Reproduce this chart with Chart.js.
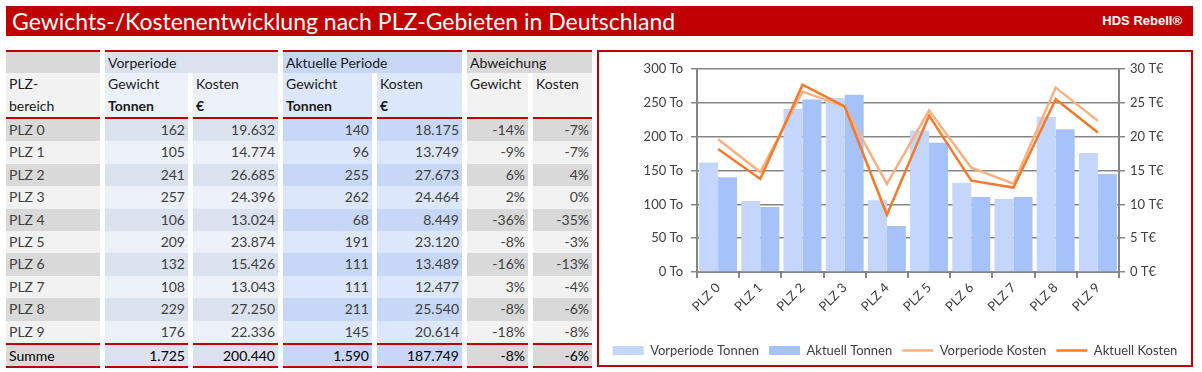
<!DOCTYPE html>
<html lang="de">
<head>
<meta charset="utf-8">
<title>Gewichts-/Kostenentwicklung nach PLZ-Gebieten</title>
<script src="https://cdn.jsdelivr.net/npm/chart.js@4/dist/chart.umd.min.js"></script>
<style>
  body { margin: 0; background: #fff; font-family: Lato, "Open Sans", sans-serif; }
  #page { position: relative; width: 1202px; height: 372px; overflow: hidden; }
  #titlebar { position: absolute; left: 6px; top: 6px; width: 1187px; height: 30px; background: #c00000; color: #fff; }
  #titlebar h1 { margin: 0; position: absolute; left: 6px; top: 0; line-height: 30px; font-size: 23px; font-weight: normal; }
  #titlebar .brand { position: absolute; right: 11px; top: 0; font: bold 13px "Liberation Sans", Arial, sans-serif; line-height: 30px; }

  #table { position: absolute; left: 6px; top: 50px; display: grid;
    grid-template-columns: 94px 83px 85px 89px 85px 61px 59px;
    grid-template-rows: 23px 46px repeat(10, 22.4px) 25px;
    column-gap: 5px; font-size: 14px; color: #1a1a1a; }
  #table div { box-sizing: border-box; padding: 0 3px; line-height: 22px; white-space: nowrap; }
  #table b { font-weight: bold; }
  #table .num { text-align: right; color: #404040; }
  #table .top { border-top: 2px solid #c00000; }
  #table .hbot { border-bottom: 2px solid #c00000; }
  #table .sum { border-top: 2px solid #c00000; border-bottom: 2px solid #c00000; color: #000; line-height: 21px; }
  #table .lbl { color: #404040; }

  #chartbox { position: absolute; left: 597px; top: 50px; width: 596px; height: 317px; box-sizing: border-box; border: 2px solid #c00000; background: #fff; overflow: hidden; }
  #chart { display: block; }
</style>
</head>
<body>
<div id="page">
  <div id="titlebar">
    <h1>Gewichts-/Kostenentwicklung nach PLZ-Gebieten in Deutschland</h1>
    <span class="brand">HDS Rebell®</span>
  </div>
  <div id="table"></div>
  <div id="chartbox"><canvas id="chart" width="592" height="319"></canvas></div>
</div>
<script>
const regions = ['PLZ 0', 'PLZ 1', 'PLZ 2', 'PLZ 3', 'PLZ 4', 'PLZ 5', 'PLZ 6', 'PLZ 7', 'PLZ 8', 'PLZ 9'];
const weightPrev = [162, 105, 241, 257, 106, 209, 132, 108, 229, 176];
const costPrev = [19632, 14774, 26685, 24396, 13024, 23874, 15426, 13043, 27250, 22336];
const weightCurr = [140, 96, 255, 262, 68, 191, 111, 111, 211, 145];
const costCurr = [18175, 13749, 27673, 24464, 8449, 23120, 13489, 12477, 25540, 20614];
const devWeight = [-14, -9, 6, 2, -36, -8, -16, 3, -8, -18];
const devCost = [-7, -7, 4, 0, -35, -3, -13, -4, -6, -8];
const totals = [1725, 200440, 1590, 187749];
const totalDev = [-8, -6];

const FONT = 'Lato, "Open Sans", sans-serif';
const C = {
  red: '#c00000',
  gray: '#d9d9d9', grayLight: '#f2f2f2',
  prev: '#dae1ef', prevLight: '#ecf0f9',
  curr: '#c6d7f8', currLight: '#dde7fb'
};

const fmt = n => String(n).replace(/\B(?=(\d{3})+(?!\d))/g, '.');
const pct = n => n + '%';

// --- table ---
const table = document.getElementById('table');
function cell(text, cls, bg, col, row, span) {
  const d = document.createElement('div');
  d.innerHTML = text;
  if (cls) d.className = cls;
  d.style.background = bg;
  d.style.gridColumn = span ? col + ' / span ' + span : col;
  d.style.gridRow = row;
  table.appendChild(d);
}

cell('', 'top', C.gray, 1, 1);
cell('Vorperiode', 'top', C.prev, 2, 1, 2);
cell('Aktuelle Periode', 'top', C.curr, 4, 1, 2);
cell('Abweichung', 'top', C.gray, 6, 1, 2);

cell('PLZ-<br>bereich', 'hbot', C.grayLight, 1, 2);
cell('Gewicht<br><b>Tonnen</b>', 'hbot', C.prevLight, 2, 2);
cell('Kosten<br><b>€</b>', 'hbot', C.prevLight, 3, 2);
cell('Gewicht<br><b>Tonnen</b>', 'hbot', C.currLight, 4, 2);
cell('Kosten<br><b>€</b>', 'hbot', C.currLight, 5, 2);
cell('Gewicht', 'hbot', C.grayLight, 6, 2);
cell('Kosten', 'hbot', C.grayLight, 7, 2);

regions.forEach((r, i) => {
  const row = i + 3;
  const even = i % 2 === 0;
  cell(r, 'lbl', even ? C.gray : C.grayLight, 1, row);
  cell(fmt(weightPrev[i]), 'num', even ? C.prev : C.prevLight, 2, row);
  cell(fmt(costPrev[i]), 'num', even ? C.prev : C.prevLight, 3, row);
  cell(fmt(weightCurr[i]), 'num', even ? C.curr : C.currLight, 4, row);
  cell(fmt(costCurr[i]), 'num', even ? C.curr : C.currLight, 5, row);
  cell(pct(devWeight[i]), 'num', even ? C.gray : C.grayLight, 6, row);
  cell(pct(devCost[i]), 'num', even ? C.gray : C.grayLight, 7, row);
});

cell('Summe', 'sum', C.gray, 1, 13);
cell(fmt(totals[0]), 'sum num', C.prev, 2, 13);
cell(fmt(totals[1]), 'sum num', C.prev, 3, 13);
cell(fmt(totals[2]), 'sum num', C.curr, 4, 13);
cell(fmt(totals[3]), 'sum num', C.curr, 5, 13);
cell(pct(totalDev[0]), 'sum num', C.gray, 6, 13);
cell(pct(totalDev[1]), 'sum num', C.gray, 7, 13);

// --- chart ---
const axisGray = '#868686';
const textGray = '#404040';
const tickFont = { family: FONT, size: 13 };

new Chart(document.getElementById('chart').getContext('2d'), {
  type: 'bar',
  data: {
    labels: regions,
    datasets: [
      { label: 'Vorperiode Tonnen', data: weightPrev, backgroundColor: '#c4d6fb', borderWidth: 0,
        pointStyle: 'rect', yAxisID: 'y', order: 2, barPercentage: 1, categoryPercentage: 0.9 },
      { label: 'Aktuell Tonnen', data: weightCurr, backgroundColor: '#a5c2fa', borderWidth: 0,
        pointStyle: 'rect', yAxisID: 'y', order: 2, barPercentage: 1, categoryPercentage: 0.9 },
      { type: 'line', label: 'Vorperiode Kosten', data: costPrev, borderColor: '#fab07f', backgroundColor: '#fab07f',
        borderWidth: 2.5, pointRadius: 0, pointStyle: 'line', tension: 0, yAxisID: 'y2', order: 1 },
      { type: 'line', label: 'Aktuell Kosten', data: costCurr, borderColor: '#f57a2c', backgroundColor: '#f57a2c',
        borderWidth: 2.5, pointRadius: 0, pointStyle: 'line', tension: 0, yAxisID: 'y2', order: 0 }
    ]
  },
  options: {
    responsive: false,
    animation: false,
    layout: { padding: { top: 17, bottom: 4, left: 0, right: 0 } },
    plugins: {
      legend: {
        position: 'bottom',
        labels: {
          usePointStyle: true, pointStyleWidth: 31, boxHeight: 9, color: textGray, font: tickFont, padding: 10,
          sort: (a, b) => a.datasetIndex - b.datasetIndex
        }
      },
      tooltip: { enabled: false }
    },
    scales: {
      x: {
        grid: { drawOnChartArea: false, color: axisGray, lineWidth: 2, tickLength: 6 },
        border: { color: axisGray, width: 2 },
        ticks: { color: textGray, font: tickFont, maxRotation: 45, minRotation: 45, padding: 2 },
        afterFit: s => { s.height = 62; }
      },
      y: {
        position: 'left', min: 0, max: 300,
        grid: { color: axisGray, lineWidth: 1.5, tickLength: 6 },
        border: { color: axisGray, width: 2 },
        ticks: { stepSize: 50, color: textGray, font: tickFont, padding: 8, callback: v => v + ' To' },
        afterFit: s => { s.width = 98; }
      },
      y2: {
        position: 'right', min: 0, max: 30000,
        grid: { drawOnChartArea: false, color: axisGray, lineWidth: 1.5, tickLength: 6 },
        border: { color: axisGray, width: 2 },
        ticks: { stepSize: 5000, color: textGray, font: tickFont, padding: 5, callback: v => (v / 1000) + ' T€' },
        afterFit: s => { s.width = 72; }
      }
    }
  }
});
</script>
</body>
</html>
